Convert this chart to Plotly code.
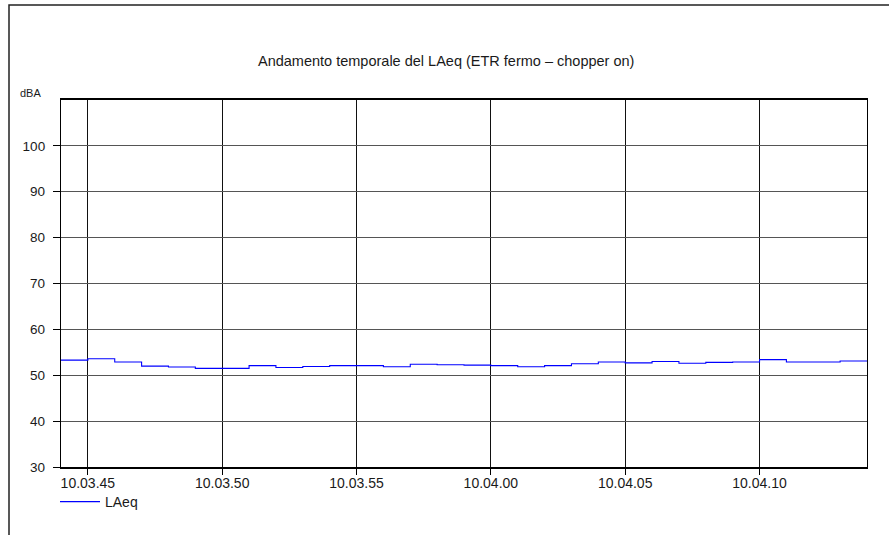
import plotly.graph_objects as go
import pandas as pd

# LAeq samples, one per second, starting at 10:03:44
start_time = "2010-01-01 10:03:44"
laeq_dba = [
    53.3, 53.6, 52.9, 52.0, 51.8, 51.5, 51.5, 52.1, 51.7, 51.9,
    52.1, 52.1, 51.85, 52.4, 52.3, 52.2, 52.1, 51.85, 52.1, 52.5,
    52.9, 52.7, 53.0, 52.6, 52.8, 52.9, 53.4, 52.9, 52.9, 53.1,
]
y_ticks = [30, 40, 50, 60, 70, 80, 90, 100]

title_text = "Andamento temporale del LAeq (ETR fermo \u2013 chopper on)"
unit_text = "dBA"
series_name = "LAeq"

# step edges: each sample holds for one second
edges = pd.date_range(start_time, periods=len(laeq_dba) + 1, freq="1s")
step_y = laeq_dba + [laeq_dba[-1]]

W, H = 889, 535
L, R, T, B = 61, 22, 100, 68
pw, ph = W - L - R, H - T - B


def px_x(p):
    return (p - L) / pw


def px_y(p):
    return (H - B - p) / ph


FONT = "Liberation Sans, Arial, sans-serif"
TXT = "#1a1a1a"

fig = go.Figure()
fig.add_trace(go.Scatter(
    x=edges, y=step_y, mode="lines", name=series_name,
    line=dict(color="#0000ff", width=1.1, shape="hv"),
))

fig.update_layout(
    width=W, height=H,
    margin=dict(l=L, r=R, t=T, b=B),
    paper_bgcolor="white", plot_bgcolor="white",
    font=dict(family=FONT, size=13, color=TXT),
    showlegend=True,
    legend=dict(
        x=px_x(55), y=px_y(502), xanchor="left", yanchor="middle",
        bgcolor="rgba(0,0,0,0)", font=dict(size=14, color=TXT),
        borderwidth=0, itemwidth=40,
    ),
)

fig.update_xaxes(
    type="date",
    range=[edges[0], edges[-1]],
    tick0="2010-01-01 10:03:45", dtick=5000,
    tickformat="%H.%M.%S",
    showgrid=True, gridcolor="#111111", gridwidth=1,
    showline=True, linecolor="#000000", linewidth=1.5, mirror=True,
    ticks="outside", ticklen=6, tickcolor="#000000", tickwidth=1,
    ticklabelstandoff=-4,
    tickfont=dict(size=14, color=TXT),
    zeroline=False,
)
fig.update_yaxes(
    range=[30, 110],
    tickvals=y_ticks,
    showgrid=True, gridcolor="#555555", gridwidth=1.3,
    showline=True, linecolor="#000000", linewidth=1.3, mirror=True,
    ticks="outside", ticklen=7, tickcolor="#000000", tickwidth=1,
    ticklabelstandoff=5,
    tickfont=dict(size=13.5, color=TXT),
    zeroline=False,
)

# title and unit label
fig.add_annotation(
    text=title_text, xref="paper", yref="paper",
    x=px_x(446), y=px_y(61), xanchor="center", yanchor="middle",
    showarrow=False, font=dict(size=14.5, color=TXT),
)
fig.add_annotation(
    text=unit_text, xref="paper", yref="paper",
    x=px_x(30), y=px_y(93), xanchor="center", yanchor="middle",
    showarrow=False, font=dict(size=11, color=TXT),
)

# outer frame (left and top edges of the page border)
fig.add_shape(
    type="path", xref="paper", yref="paper",
    path=f"M {px_x(9)},{px_y(560)} L {px_x(9)},{px_y(5)} L {px_x(900)},{px_y(5)}",
    line=dict(color="#222222", width=1.5),
)

fig.write_html("out.html")
